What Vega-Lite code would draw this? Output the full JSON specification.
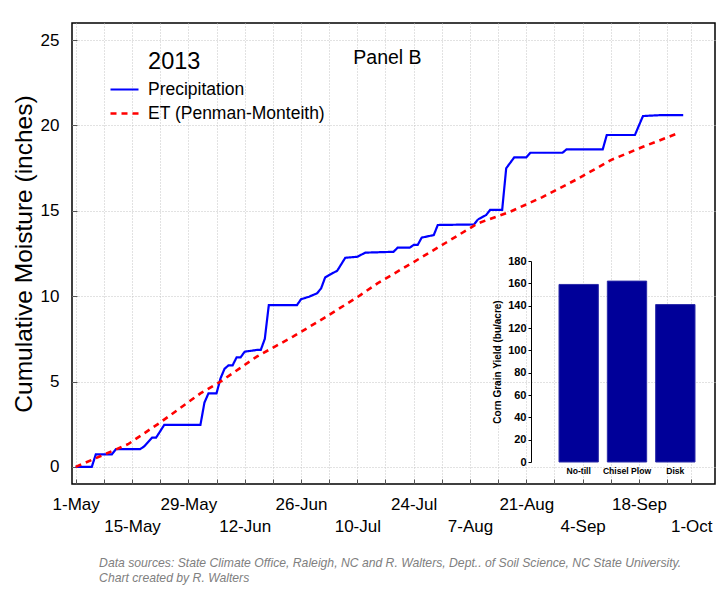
{
  "$schema": "https://vega.github.io/schema/vega-lite/v6.json",
  "width": 643,
  "height": 461,
  "autosize": {"type": "none"},
  "padding": {"left": 72, "top": 23, "right": 13, "bottom": 107},
  "background": "white",
  "config": {
    "font": "Liberation Sans",
    "view": {"stroke": "black", "strokeWidth": 1.5}
  },
  "title": {
    "text": ["Data sources: State Climate Office, Raleigh, NC  and R. Walters,  Dept.. of Soil Science, NC State University.", "Chart created by R. Walters"],
    "orient": "bottom",
    "anchor": "start",
    "dx": 88,
    "offset": 23,
    "font": "Liberation Sans",
    "fontSize": 12.2,
    "fontStyle": "italic",
    "fontWeight": "normal",
    "color": "#808080",
    "lineHeight": 15
  },
  "datasets": {
    "moisture": [
      {"series": "Precipitation", "date": "2013-05-01", "value": 0},
      {"series": "Precipitation", "date": "2013-05-05", "value": 0},
      {"series": "Precipitation", "date": "2013-05-06", "value": 0.74},
      {"series": "Precipitation", "date": "2013-05-10", "value": 0.74},
      {"series": "Precipitation", "date": "2013-05-11", "value": 1.04},
      {"series": "Precipitation", "date": "2013-05-17", "value": 1.04},
      {"series": "Precipitation", "date": "2013-05-18", "value": 1.2},
      {"series": "Precipitation", "date": "2013-05-20", "value": 1.72},
      {"series": "Precipitation", "date": "2013-05-21", "value": 1.72},
      {"series": "Precipitation", "date": "2013-05-23", "value": 2.46},
      {"series": "Precipitation", "date": "2013-06-01", "value": 2.46},
      {"series": "Precipitation", "date": "2013-06-02", "value": 3.77},
      {"series": "Precipitation", "date": "2013-06-03", "value": 4.31},
      {"series": "Precipitation", "date": "2013-06-05", "value": 4.31},
      {"series": "Precipitation", "date": "2013-06-06", "value": 5.19},
      {"series": "Precipitation", "date": "2013-06-07", "value": 5.75},
      {"series": "Precipitation", "date": "2013-06-08", "value": 5.95},
      {"series": "Precipitation", "date": "2013-06-09", "value": 5.95},
      {"series": "Precipitation", "date": "2013-06-10", "value": 6.42},
      {"series": "Precipitation", "date": "2013-06-11", "value": 6.42},
      {"series": "Precipitation", "date": "2013-06-12", "value": 6.75},
      {"series": "Precipitation", "date": "2013-06-15", "value": 6.85},
      {"series": "Precipitation", "date": "2013-06-16", "value": 6.85},
      {"series": "Precipitation", "date": "2013-06-17", "value": 7.5},
      {"series": "Precipitation", "date": "2013-06-18", "value": 9.48},
      {"series": "Precipitation", "date": "2013-06-25", "value": 9.48},
      {"series": "Precipitation", "date": "2013-06-26", "value": 9.82},
      {"series": "Precipitation", "date": "2013-06-28", "value": 9.97},
      {"series": "Precipitation", "date": "2013-06-30", "value": 10.17},
      {"series": "Precipitation", "date": "2013-07-01", "value": 10.46},
      {"series": "Precipitation", "date": "2013-07-02", "value": 11.1},
      {"series": "Precipitation", "date": "2013-07-03", "value": 11.24},
      {"series": "Precipitation", "date": "2013-07-05", "value": 11.49},
      {"series": "Precipitation", "date": "2013-07-07", "value": 12.25},
      {"series": "Precipitation", "date": "2013-07-10", "value": 12.31},
      {"series": "Precipitation", "date": "2013-07-12", "value": 12.55},
      {"series": "Precipitation", "date": "2013-07-19", "value": 12.6},
      {"series": "Precipitation", "date": "2013-07-20", "value": 12.84},
      {"series": "Precipitation", "date": "2013-07-23", "value": 12.84},
      {"series": "Precipitation", "date": "2013-07-24", "value": 13.0},
      {"series": "Precipitation", "date": "2013-07-25", "value": 13.0},
      {"series": "Precipitation", "date": "2013-07-26", "value": 13.43},
      {"series": "Precipitation", "date": "2013-07-29", "value": 13.58},
      {"series": "Precipitation", "date": "2013-07-30", "value": 14.17},
      {"series": "Precipitation", "date": "2013-08-08", "value": 14.2},
      {"series": "Precipitation", "date": "2013-08-09", "value": 14.5},
      {"series": "Precipitation", "date": "2013-08-11", "value": 14.75},
      {"series": "Precipitation", "date": "2013-08-12", "value": 15.05},
      {"series": "Precipitation", "date": "2013-08-15", "value": 15.05},
      {"series": "Precipitation", "date": "2013-08-16", "value": 17.49},
      {"series": "Precipitation", "date": "2013-08-18", "value": 18.13},
      {"series": "Precipitation", "date": "2013-08-21", "value": 18.13},
      {"series": "Precipitation", "date": "2013-08-22", "value": 18.4},
      {"series": "Precipitation", "date": "2013-08-30", "value": 18.4},
      {"series": "Precipitation", "date": "2013-08-31", "value": 18.6},
      {"series": "Precipitation", "date": "2013-09-09", "value": 18.6},
      {"series": "Precipitation", "date": "2013-09-10", "value": 19.44},
      {"series": "Precipitation", "date": "2013-09-17", "value": 19.44},
      {"series": "Precipitation", "date": "2013-09-18", "value": 20.0},
      {"series": "Precipitation", "date": "2013-09-19", "value": 20.55},
      {"series": "Precipitation", "date": "2013-09-23", "value": 20.6},
      {"series": "Precipitation", "date": "2013-09-29", "value": 20.6},
      {"series": "ET (Penman-Monteith)", "date": "2013-05-01", "value": 0},
      {"series": "ET (Penman-Monteith)", "date": "2013-05-14", "value": 1.33},
      {"series": "ET (Penman-Monteith)", "date": "2013-05-22", "value": 2.6},
      {"series": "ET (Penman-Monteith)", "date": "2013-06-01", "value": 4.31},
      {"series": "ET (Penman-Monteith)", "date": "2013-06-06", "value": 5.0},
      {"series": "ET (Penman-Monteith)", "date": "2013-06-15", "value": 6.46},
      {"series": "ET (Penman-Monteith)", "date": "2013-06-24", "value": 7.63},
      {"series": "ET (Penman-Monteith)", "date": "2013-07-02", "value": 8.76},
      {"series": "ET (Penman-Monteith)", "date": "2013-07-10", "value": 9.94},
      {"series": "ET (Penman-Monteith)", "date": "2013-07-15", "value": 10.75},
      {"series": "ET (Penman-Monteith)", "date": "2013-07-24", "value": 12.0},
      {"series": "ET (Penman-Monteith)", "date": "2013-08-01", "value": 13.13},
      {"series": "ET (Penman-Monteith)", "date": "2013-08-09", "value": 14.27},
      {"series": "ET (Penman-Monteith)", "date": "2013-08-17", "value": 14.95},
      {"series": "ET (Penman-Monteith)", "date": "2013-08-25", "value": 15.8},
      {"series": "ET (Penman-Monteith)", "date": "2013-09-03", "value": 16.9},
      {"series": "ET (Penman-Monteith)", "date": "2013-09-11", "value": 17.97},
      {"series": "ET (Penman-Monteith)", "date": "2013-09-19", "value": 18.75},
      {"series": "ET (Penman-Monteith)", "date": "2013-09-28", "value": 19.57}
    ],
    "notes": [
      {"label": "2013", "date": "2013-05-19", "value": 23.73, "size": "big"},
      {"label": "Panel B", "date": "2013-07-09", "value": 23.95, "size": "small"}
    ],
    "yield": [
      {"tillage": "No-till", "yield": 159},
      {"tillage": "Chisel Plow", "yield": 162},
      {"tillage": "Disk", "yield": 141}
    ]
  },
  "layer": [
    {
      "data": {"name": "moisture"},
      "mark": {"type": "line", "interpolate": "linear", "clip": true},
      "encoding": {
        "x": {
          "field": "date",
          "type": "temporal",
          "scale": {"type": "utc", "domain": [1367286912000, 1381095360000], "nice": false},
          "axis": {
            "title": null,
            "orient": "bottom",
            "values": [1367366400000, 1367971200000, 1368576000000, 1369180800000, 1369785600000, 1370390400000, 1370995200000, 1371600000000, 1372204800000, 1372809600000, 1373414400000, 1374019200000, 1374624000000, 1375228800000, 1375833600000, 1376438400000, 1377043200000, 1377648000000, 1378252800000, 1378857600000, 1379462400000, 1380067200000, 1380585600000],
            "labelExpr": "(round((datum.value - 1367366400000) / 86400000) % 14 == 0 || round((datum.value - 1367366400000) / 86400000) == 153) ? utcFormat(datum.value, '%-d-%b') : ''",
            "labelPadding": {"condition": {"test": "round((datum.value - 1367366400000) / 86400000) % 28 != 0", "value": 39}, "value": 17},
            "labelFontSize": 17,
            "labelColor": "black",
            "labelOverlap": false,
            "labelBound": false,
            "labelFlush": false,
            "domain": false,
            "ticks": true,
            "tickSize": -5,
            "tickColor": "#555555",
            "grid": true,
            "gridColor": "#c4c4c4",
            "gridDash": [1, 2],
            "gridWidth": 1
          }
        },
        "y": {
          "field": "value",
          "type": "quantitative",
          "scale": {"domain": [-1, 26], "nice": false, "zero": false},
          "axis": {
            "title": "Cumulative Moisture (inches)",
            "titleFontSize": 24.5,
            "titleFontWeight": "normal",
            "titleColor": "black",
            "titlePadding": 4,
            "orient": "left",
            "values": [0, 5, 10, 15, 20, 25],
            "labelFontSize": 17,
            "labelColor": "black",
            "labelPadding": 18,
            "domain": false,
            "tickSize": -5,
            "tickColor": "#555555",
            "grid": true,
            "gridColor": "#c4c4c4",
            "gridDash": [1, 2],
            "gridWidth": 1
          }
        },
        "color": {
          "field": "series",
          "type": "nominal",
          "scale": {"domain": ["Precipitation", "ET (Penman-Monteith)"], "range": ["#0000ff", "#ff0000"]},
          "legend": {
            "title": null,
            "orient": "none",
            "legendX": 37,
            "legendY": 51,
            "padding": 0,
            "symbolType": "stroke",
            "symbolSize": 784,
            "symbolStrokeWidth": 2,
            "labelFontSize": 17.5,
            "labelColor": "black",
            "labelOffset": 8,
            "rowPadding": -8.5,
            "labelLimit": 400
          }
        },
        "strokeDash": {
          "field": "series",
          "type": "nominal",
          "scale": {"domain": ["Precipitation", "ET (Penman-Monteith)"], "range": [[1, 0], [6, 5]]}
        },
        "strokeWidth": {
          "field": "series",
          "type": "nominal",
          "scale": {"domain": ["Precipitation", "ET (Penman-Monteith)"], "range": [2.2, 2.6]},
          "legend": null
        }
      }
    },
    {
      "data": {"name": "notes"},
      "mark": {"type": "text", "align": "left", "baseline": "middle", "color": "black"},
      "encoding": {
        "x": {"field": "date", "type": "temporal", "scale": {"type": "utc", "domain": [1367286912000, 1381095360000], "nice": false}, "axis": null},
        "y": {"field": "value", "type": "quantitative", "scale": {"domain": [-1, 26], "nice": false, "zero": false}, "axis": null},
        "text": {"field": "label", "type": "nominal"},
        "size": {
          "field": "size",
          "type": "nominal",
          "scale": {"domain": ["big", "small"], "range": [23.5, 19.5]},
          "legend": null
        }
      }
    },
    {
      "data": {"name": "yield"},
      "mark": {"type": "bar", "color": "#000099", "stroke": "#2a2aa8", "strokeWidth": 1},
      "encoding": {
        "x": {
          "field": "tillage",
          "type": "nominal",
          "sort": null,
          "scale": {"range": [487, 623], "paddingInner": 0.186, "paddingOuter": 0},
          "axis": {
            "title": null,
            "orient": "bottom",
            "offset": -22,
            "domain": false,
            "ticks": false,
            "grid": false,
            "labelAngle": 0,
            "labelFontSize": 8.6,
            "labelFontWeight": "bold",
            "labelColor": "black",
            "labelPadding": 4
          }
        },
        "y": {
          "field": "yield",
          "type": "quantitative",
          "scale": {"domain": [0, 180], "range": [439, 238], "nice": false},
          "axis": {
            "title": "Corn Grain Yield (bu/acre)",
            "titleFontSize": 10,
            "titleFontWeight": "bold",
            "titleColor": "black",
            "titlePadding": 5,
            "orient": "left",
            "offset": -459,
            "values": [0, 20, 40, 60, 80, 100, 120, 140, 160, 180],
            "labelFontSize": 11,
            "labelFontWeight": "bold",
            "labelColor": "black",
            "labelPadding": 2,
            "tickSize": 3,
            "tickColor": "black",
            "domain": true,
            "domainColor": "black",
            "grid": false
          }
        }
      }
    }
  ],
  "resolve": {"scale": {"x": "independent", "y": "independent"}}
}
